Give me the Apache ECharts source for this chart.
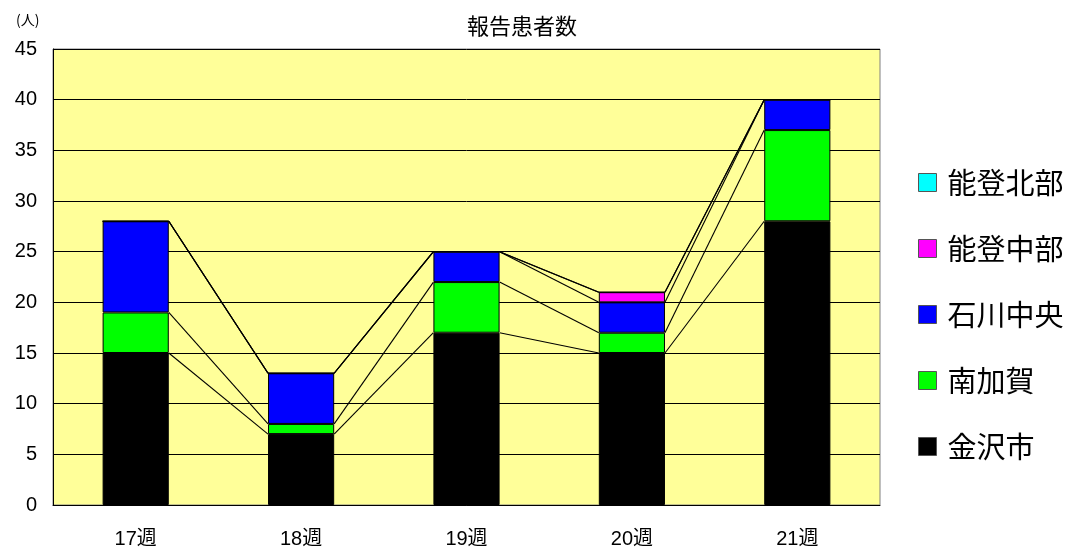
<!DOCTYPE html>
<html>
<head>
<meta charset="utf-8">
<script src="https://cdn.jsdelivr.net/npm/echarts@6/dist/echarts.min.js"></script>
<style>html,body{margin:0;padding:0;background:#fff;}#c{width:1073px;height:549px;}</style>
</head>
<body>
<div id="c"></div>
<script>
var categories = ['17週', '18週', '19週', '20週', '21週'];
var kanazawa = [15, 7, 17, 15, 28];
var minamiKaga = [4, 1, 5, 2, 9];
var ishikawaChuo = [9, 5, 3, 3, 3];
var notoChubu = [0, 0, 0, 1, 0];
var notoHokubu = [0, 0, 0, 0, 0];
var seriesNames = ['金沢市', '南加賀', '石川中央', '能登中部', '能登北部'];
var seriesColors = ['#000000', '#00FF00', '#0000FF', '#FF00FF', '#00FFFF'];
var yTicks = {min: 0, max: 45, interval: 5};

var seriesValues = [kanazawa, minamiKaga, ishikawaChuo, notoChubu, notoHokubu];
var cumulative = [];
var running = categories.map(function () { return 0; });
seriesValues.forEach(function (vals) {
  running = running.map(function (r, i) { return r + vals[i]; });
  cumulative.push(running.slice());
});

var FONT = 'Liberation Sans, Arial, Noto Sans CJK JP, sans-serif';
var BAR_RATIO = 0.4;

var series = seriesValues.map(function (vals, k) {
  return {
    name: seriesNames[k],
    type: 'bar',
    stack: 'total',
    barWidth: '40%',
    data: vals,
    itemStyle: {color: seriesColors[k], borderColor: '#000', borderWidth: 1},
    emphasis: {disabled: true},
    animation: false
  };
});

series.push({
  type: 'custom',
  name: 'series-lines',
  data: categories.slice(0, categories.length - 1).map(function (c, i) { return [i]; }),
  encode: {x: 0},
  silent: true,
  animation: false,
  z: 1,
  renderItem: function (params, api) {
    var i = params.dataIndex;
    var bw = api.size([1, 0])[0] * BAR_RATIO;
    var children = cumulative.map(function (cum) {
      var p1 = api.coord([i, cum[i]]);
      var p2 = api.coord([i + 1, cum[i + 1]]);
      return {
        type: 'line',
        shape: {x1: p1[0] + bw / 2, y1: p1[1], x2: p2[0] - bw / 2, y2: p2[1]},
        style: {stroke: '#000', lineWidth: 1.1}
      };
    });
    return {type: 'group', children: children};
  }
});

var chart = echarts.init(document.getElementById('c'), null, {renderer: 'canvas'});
chart.setOption({
  backgroundColor: '#ffffff',
  animation: false,
  title: [
    {text: '報告患者数', left: 462, top: 10, textStyle: {fontFamily: 'Noto Sans CJK JP', fontSize: 22, fontWeight: 'normal', color: '#000'}},
    {text: '(人)', left: 11, top: 8, textStyle: {fontFamily: 'Noto Sans CJK JP', fontSize: 14, fontWeight: 'normal', color: '#000'}}
  ],
  grid: {left: 53, right: 193, top: 49, bottom: 44, show: true, backgroundColor: '#FFFF99', borderColor: '#808080', borderWidth: 1},
  legend: {
    orient: 'vertical',
    left: 918,
    top: 168,
    padding: 0,
    data: seriesNames.slice().reverse(),
    itemWidth: 18,
    itemHeight: 18,
    itemGap: 37,
    icon: 'rect',
    itemStyle: {borderColor: '#555', borderWidth: 1},
    selectedMode: false,
    textStyle: {fontFamily: 'Noto Sans CJK JP', fontSize: 29, lineHeight: 29, color: '#000', padding: [0, 0, 0, 6]}
  },
  xAxis: {
    type: 'category',
    data: categories,
    boundaryGap: true,
    axisLine: {lineStyle: {color: '#000', width: 1}},
    axisTick: {inside: true, length: 6, lineStyle: {color: '#000'}},
    axisLabel: {fontFamily: FONT, fontSize: 20, color: '#000', margin: 24},
    splitLine: {show: false}
  },
  yAxis: {
    type: 'value',
    min: yTicks.min,
    max: yTicks.max,
    interval: yTicks.interval,
    axisLine: {show: true, lineStyle: {color: '#000', width: 1}},
    axisTick: {show: true, inside: true, length: 6, lineStyle: {color: '#000'}},
    axisLabel: {fontFamily: FONT, fontSize: 20, color: '#000', margin: 16},
    splitLine: {show: true, lineStyle: {color: '#000', width: 1}}
  },
  series: series
});
</script>
</body>
</html>
